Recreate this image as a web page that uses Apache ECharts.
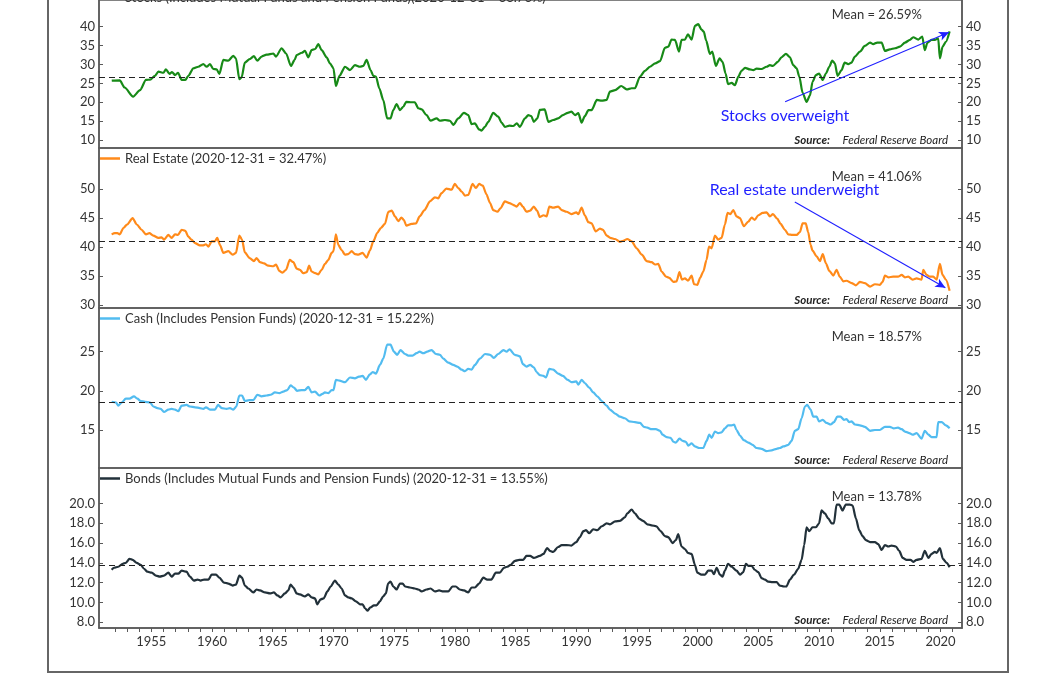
<!DOCTYPE html>
<html>
<head>
<meta charset="utf-8">
<script src="https://cdn.jsdelivr.net/npm/echarts@6.0.0/dist/echarts.min.js"></script>
<style>
  html, body { margin: 0; padding: 0; background: #ffffff; }
  #chart { width: 1056px; height: 675px; }
</style>
</head>
<body>
<div id="chart"></div>
<script>
// ---------------- DATA ----------------
const stocksName = 'Stocks (Includes Mutual Funds and Pension Funds)(2020-12-31 = 38.76%)';
const realEstateName = 'Real Estate (2020-12-31 = 32.47%)';
const cashName = 'Cash (Includes Pension Funds) (2020-12-31 = 15.22%)';
const bondsName = 'Bonds (Includes Mutual Funds and Pension Funds) (2020-12-31 = 13.55%)';

const stocksDates = [1951.74,1952.4,1952.8,1953.5,1954.07,1954.56,1954.9,1955.3,1955.58,1956.0,1956.2,1956.5,1956.7,1956.95,1957.2,1957.5,1957.8,1958.05,1958.46,1958.87,1959.28,1959.56,1959.83,1960.1,1960.38,1960.6,1960.93,1961.34,1961.75,1961.97,1962.25,1962.44,1962.7,1963.1,1963.45,1963.73,1964.08,1964.5,1965.05,1965.27,1965.73,1966.1,1966.5,1966.8,1966.97,1967.4,1967.65,1967.93,1968.2,1968.5,1968.75,1969.03,1969.44,1969.71,1970.0,1970.2,1970.5,1970.95,1971.36,1971.77,1972.18,1972.46,1972.73,1973.06,1973.28,1973.5,1973.78,1974.1,1974.43,1974.7,1974.93,1975.2,1975.48,1975.75,1976.0,1976.44,1976.7,1976.99,1977.26,1977.67,1978.0,1978.5,1978.77,1979.18,1979.6,1979.87,1980.28,1980.75,1981.1,1981.38,1981.65,1982.0,1982.2,1982.48,1982.75,1983.16,1983.57,1983.85,1984.12,1984.5,1984.8,1985.1,1985.36,1985.77,1986.05,1986.3,1986.5,1986.79,1987.0,1987.4,1987.7,1988.1,1988.5,1988.9,1989.3,1989.6,1989.9,1990.17,1990.44,1990.7,1991.0,1991.26,1991.7,1992.1,1992.5,1992.77,1993.2,1993.7,1994.15,1994.56,1994.83,1995.25,1995.66,1996.07,1996.5,1996.9,1997.3,1997.58,1997.85,1998.13,1998.46,1998.67,1998.95,1999.2,1999.5,1999.77,2000.05,2000.3,2000.5,2000.7,2001.0,2001.2,2001.5,2001.8,2002.05,2002.3,2002.5,2002.8,2003.07,2003.35,2003.6,2003.9,2004.3,2004.58,2004.85,2005.26,2005.67,2005.95,2006.2,2006.6,2006.9,2007.27,2007.6,2007.87,2008.15,2008.37,2008.64,2008.97,2009.25,2009.46,2009.74,2010.0,2010.3,2010.56,2010.84,2011.08,2011.3,2011.52,2011.85,2012.1,2012.4,2012.67,2012.95,2013.36,2013.77,2014.2,2014.46,2014.79,2015.15,2015.42,2015.83,2016.25,2016.66,2017.07,2017.48,2017.75,2018.17,2018.5,2018.7,2018.93,2019.26,2019.54,2019.81,2019.95,2020.17,2020.44,2020.75];
const stocksValues = [25.7,25.8,23.9,21.5,23.2,25.9,26.0,27.0,28.1,27.8,28.7,27.5,28.0,27.2,27.8,25.9,25.9,27.0,29.0,29.4,30.1,29.4,30.1,28.8,28.7,27.5,31.2,31.0,32.3,31.6,26.1,26.6,30.5,31.4,32.2,31.0,32.1,32.6,32.9,32.1,34.3,32.9,29.6,31.2,32.5,33.1,33.6,31.9,33.8,34.1,35.4,33.8,31.9,30.3,29.0,24.3,27.0,29.4,28.5,29.8,29.4,29.6,31.2,28.5,27.0,26.8,23.7,20.6,15.7,15.7,17.9,19.5,17.9,18.8,20.1,20.0,20.0,18.4,18.1,16.6,15.1,15.7,15.1,15.3,15.1,14.0,15.7,17.2,16.6,14.2,14.4,12.8,12.5,13.5,14.8,17.2,16.2,14.6,13.5,13.8,13.7,14.4,13.5,15.7,16.6,16.3,14.8,15.7,18.0,18.1,14.8,15.3,15.7,16.6,17.2,17.5,16.6,17.1,14.6,16.3,17.9,17.9,20.6,20.4,20.6,22.8,23.2,24.3,23.4,23.7,23.7,26.8,28.3,29.4,30.3,30.9,34.4,34.7,36.6,36.5,33.4,36.5,36.6,38.0,36.6,40.2,40.7,39.3,38.7,36.3,32.8,33.4,29.6,31.6,30.7,27.6,24.8,25.1,24.5,26.8,28.3,29.1,28.7,28.5,28.9,28.8,29.4,29.8,29.6,30.7,31.9,32.8,31.9,29.8,29.0,26.8,22.5,20.1,21.8,25.4,27.2,27.6,25.9,27.6,29.4,31.0,30.3,27.0,28.5,30.5,30.1,30.5,32.1,33.4,34.9,35.8,35.4,35.8,35.8,33.6,34.0,34.3,34.7,35.8,36.5,37.2,36.6,37.4,33.8,35.8,36.5,36.5,36.9,31.6,34.7,36.0,38.76];

const realEstateDates = [1951.73,1952.0,1952.2,1952.4,1952.7,1953.0,1953.46,1953.8,1954.2,1954.56,1954.84,1955.16,1955.58,1955.85,1956.04,1956.4,1956.67,1956.95,1957.2,1957.5,1957.8,1958.05,1958.3,1958.6,1959.0,1959.28,1959.5,1959.7,1959.97,1960.24,1960.43,1960.65,1960.93,1961.34,1961.7,1961.97,1962.25,1962.47,1962.7,1963.1,1963.45,1963.67,1963.95,1964.28,1964.63,1965.05,1965.27,1965.54,1965.8,1966.1,1966.4,1966.7,1966.97,1967.24,1967.5,1967.8,1968.0,1968.2,1968.5,1968.75,1969.03,1969.3,1969.58,1969.85,1970.0,1970.2,1970.4,1970.67,1970.95,1971.22,1971.5,1971.77,1972.05,1972.4,1972.73,1973.0,1973.28,1973.6,1973.9,1974.24,1974.52,1974.8,1975.07,1975.34,1975.6,1975.8,1976.0,1976.44,1976.8,1977.1,1977.5,1977.95,1978.36,1978.63,1978.9,1979.3,1979.73,1980.0,1980.28,1980.56,1980.83,1981.1,1981.46,1981.73,1982.0,1982.3,1982.6,1982.9,1983.16,1983.5,1983.76,1984.12,1984.5,1984.8,1985.07,1985.36,1985.6,1985.9,1986.2,1986.5,1986.77,1987.0,1987.3,1987.56,1987.78,1988.1,1988.5,1988.8,1989.2,1989.6,1990.0,1990.17,1990.44,1990.7,1991.0,1991.26,1991.6,1991.95,1992.2,1992.5,1992.8,1993.2,1993.6,1993.87,1994.2,1994.56,1994.97,1995.4,1995.8,1996.2,1996.5,1996.75,1997.03,1997.4,1997.66,1998.0,1998.26,1998.5,1998.7,1998.95,1999.2,1999.5,1999.7,1999.97,2000.2,2000.46,2000.73,2000.93,2001.15,2001.42,2001.7,2001.97,2002.24,2002.46,2002.7,2002.93,2003.2,2003.48,2003.8,2004.17,2004.44,2004.7,2004.99,2005.35,2005.68,2005.95,2006.2,2006.55,2006.83,2007.18,2007.46,2007.8,2008.15,2008.42,2008.64,2008.9,2009.1,2009.3,2009.46,2009.8,2010.07,2010.3,2010.56,2010.84,2011.17,2011.44,2011.7,2012.0,2012.26,2012.68,2013.03,2013.36,2013.77,2014.2,2014.6,2015.0,2015.23,2015.42,2015.7,2016.1,2016.5,2016.8,2017.07,2017.34,2017.7,2018.03,2018.44,2018.58,2018.85,2019.13,2019.4,2019.68,2019.95,2020.17,2020.44,2020.75];
const realEstateValues = [42.2,42.4,42.4,42.2,43.3,43.9,45.0,43.9,43.0,42.2,42.4,42.0,41.6,41.7,41.3,42.1,41.6,42.2,42.1,43.0,42.8,41.8,41.3,40.7,40.3,40.3,40.5,40.1,41.0,41.0,41.6,40.4,39.0,39.3,38.7,39.0,42.0,41.3,39.1,38.1,37.6,38.1,37.4,37.2,36.8,36.7,37.0,35.9,35.6,36.1,37.8,37.4,36.3,36.1,35.5,35.7,36.8,35.8,35.5,35.3,36.1,37.1,37.8,39.0,39.3,42.2,40.4,39.5,38.7,38.8,39.3,38.8,38.7,39.0,38.2,39.4,41.0,42.4,43.3,44.0,46.1,46.3,45.3,44.5,45.1,44.7,43.7,44.0,44.1,45.3,46.4,47.9,48.6,48.4,49.3,50.1,49.9,50.9,50.2,49.6,48.9,49.0,50.9,50.2,50.9,50.6,49.1,47.6,46.4,46.1,46.7,47.9,47.6,47.3,47.0,47.6,47.0,46.1,46.3,47.0,46.3,45.2,45.5,45.3,47.0,46.8,47.0,46.4,46.1,45.7,46.0,45.7,46.8,45.5,44.3,44.1,42.7,43.2,43.0,42.0,41.6,41.4,40.9,41.1,41.4,41.0,39.8,38.7,37.6,37.4,37.0,37.1,35.8,34.9,34.7,34.0,34.1,35.7,34.4,34.6,34.2,35.1,33.6,33.5,34.7,35.8,37.8,40.1,39.8,42.0,41.3,41.6,43.9,45.9,45.7,46.4,45.3,45.0,43.6,44.4,45.1,44.7,45.5,45.9,46.0,45.3,45.7,44.9,44.0,43.0,42.2,42.1,42.1,42.6,44.1,44.1,42.6,40.4,39.4,38.4,37.6,38.8,37.2,35.9,35.1,36.1,34.9,34.1,34.2,33.8,33.4,34.0,33.8,33.2,33.6,33.5,34.0,35.1,34.8,34.9,34.9,35.2,34.8,34.9,34.4,34.6,34.4,36.1,35.2,34.9,34.9,34.4,37.1,35.2,34.4,32.47];

const cashDates = [1951.73,1952.1,1952.28,1952.55,1952.9,1953.2,1953.57,1953.85,1954.12,1954.48,1954.9,1955.16,1955.5,1955.77,1956.04,1956.4,1956.67,1956.95,1957.22,1957.5,1957.9,1958.18,1958.6,1959.0,1959.28,1959.5,1959.83,1960.24,1960.5,1960.8,1961.2,1961.48,1961.75,1962.0,1962.25,1962.47,1962.7,1963.07,1963.4,1963.73,1964.08,1964.5,1964.83,1965.18,1965.54,1965.87,1966.2,1966.47,1966.75,1967.0,1967.38,1967.65,1967.93,1968.2,1968.48,1968.83,1969.1,1969.3,1969.58,1969.85,1970.0,1970.2,1970.5,1970.95,1971.36,1971.77,1972.1,1972.4,1972.68,1973.0,1973.23,1973.5,1973.83,1974.1,1974.43,1974.7,1974.98,1975.25,1975.52,1975.9,1976.16,1976.52,1976.85,1977.1,1977.4,1977.73,1978.08,1978.44,1978.77,1979.05,1979.46,1979.87,1980.2,1980.56,1980.83,1981.1,1981.38,1981.65,1982.06,1982.48,1982.9,1983.2,1983.57,1984.0,1984.26,1984.5,1984.94,1985.36,1985.6,1985.9,1986.2,1986.5,1986.73,1987.0,1987.3,1987.5,1987.78,1988.1,1988.5,1988.9,1989.3,1989.6,1990.0,1990.17,1990.44,1990.7,1991.07,1991.4,1991.73,1992.1,1992.5,1992.77,1993.2,1993.6,1994.0,1994.37,1994.83,1995.25,1995.57,1995.85,1996.2,1996.56,1996.9,1997.1,1997.44,1997.77,1998.0,1998.2,1998.5,1998.76,1999.03,1999.23,1999.5,1999.77,2000.13,2000.46,2000.73,2000.95,2001.15,2001.42,2001.7,2001.97,2002.24,2002.5,2002.8,2003.0,2003.2,2003.48,2003.8,2004.17,2004.52,2004.85,2005.26,2005.67,2006.09,2006.5,2006.77,2007.05,2007.46,2007.73,2008.0,2008.28,2008.56,2008.83,2009.02,2009.3,2009.52,2009.8,2010.0,2010.3,2010.62,2010.95,2011.22,2011.5,2011.77,2012.05,2012.26,2012.48,2012.68,2012.95,2013.36,2013.77,2014.2,2014.6,2015.0,2015.42,2015.83,2016.16,2016.5,2016.8,2017.07,2017.43,2017.7,2018.03,2018.44,2018.7,2019.0,2019.26,2019.68,2019.81,2020.1,2020.44,2020.75];
const cashValues = [18.6,18.5,18.1,18.5,19.0,19.0,19.3,19.0,18.7,18.6,18.5,18.0,17.8,17.7,17.3,17.6,17.7,17.6,17.4,18.1,18.2,18.0,17.9,17.8,17.7,17.9,17.6,17.6,18.2,17.8,17.7,17.8,17.6,18.0,19.4,19.4,18.7,18.8,18.8,19.5,19.3,19.4,19.5,19.8,19.7,19.9,20.1,20.7,20.4,20.0,20.1,20.1,20.5,19.8,19.9,19.4,19.6,19.8,19.7,20.1,20.1,21.4,21.3,21.1,21.7,21.6,21.8,21.9,21.4,22.1,22.4,22.2,23.3,24.1,25.9,25.9,25.0,24.6,25.2,24.7,24.5,24.5,24.8,25.0,24.8,25.0,25.2,24.7,24.6,24.1,23.6,23.3,23.1,22.7,22.5,22.8,22.7,23.3,24.1,24.7,24.6,24.2,24.7,25.2,25.0,25.3,24.6,24.4,23.4,23.1,23.3,23.0,22.4,22.0,21.9,21.7,22.8,22.7,22.2,21.9,21.4,21.1,21.2,20.8,21.4,21.0,20.4,19.8,19.3,18.7,18.1,17.6,17.1,16.7,16.5,16.1,16.0,15.9,15.4,15.3,15.1,15.1,14.9,14.4,14.1,14.0,13.5,13.4,13.9,13.6,13.5,13.0,13.3,12.9,12.7,12.7,13.6,14.4,14.0,14.8,14.6,14.7,15.2,15.6,15.6,15.7,15.0,14.3,13.7,13.4,13.1,12.7,12.6,12.3,12.4,12.6,12.7,12.9,13.1,13.6,14.9,15.1,16.5,18.0,18.2,17.6,16.7,16.7,16.1,16.3,15.9,15.7,16.0,16.7,16.7,16.3,16.4,16.0,16.1,15.7,15.6,15.4,14.9,15.0,15.0,15.4,15.4,15.2,15.3,15.1,14.8,14.6,14.4,14.6,13.9,14.9,14.4,14.1,14.1,16.0,16.0,15.6,15.22];

const bondsDates = [1951.73,1951.93,1952.28,1952.64,1952.9,1953.2,1953.46,1953.8,1954.12,1954.4,1954.67,1955.03,1955.38,1955.7,1956.04,1956.4,1956.67,1956.95,1957.22,1957.5,1957.9,1958.18,1958.5,1958.8,1959.06,1959.34,1959.7,1959.97,1960.33,1960.6,1960.98,1961.34,1961.7,1961.97,1962.25,1962.47,1962.7,1962.99,1963.4,1963.67,1963.95,1964.36,1964.77,1965.1,1965.38,1965.65,1966.0,1966.28,1966.47,1966.7,1966.97,1967.24,1967.65,1967.93,1968.2,1968.48,1968.67,1968.94,1969.2,1969.5,1969.77,1970.12,1970.4,1970.67,1970.95,1971.22,1971.5,1971.85,1972.18,1972.4,1972.6,1972.79,1973.06,1973.33,1973.55,1973.83,1974.1,1974.32,1974.5,1974.7,1974.93,1975.2,1975.48,1975.7,1975.9,1976.3,1976.7,1976.99,1977.26,1977.67,1978.0,1978.36,1978.7,1979.05,1979.46,1979.8,1980.08,1980.4,1980.75,1981.1,1981.38,1981.65,1982.0,1982.34,1982.66,1983.0,1983.38,1983.7,1984.04,1984.3,1984.6,1984.95,1985.3,1985.63,1985.9,1986.2,1986.5,1987.0,1987.3,1987.6,1987.83,1988.1,1988.5,1988.8,1989.2,1989.6,1990.0,1990.3,1990.58,1990.8,1991.07,1991.4,1991.73,1992.1,1992.5,1992.77,1993.2,1993.6,1994.0,1994.2,1994.56,1994.83,1995.2,1995.5,1995.85,1996.2,1996.6,1996.95,1997.3,1997.58,1997.93,1998.2,1998.4,1998.67,1998.95,1999.2,1999.5,1999.77,1999.97,2000.3,2000.6,2000.87,2001.15,2001.34,2001.56,2001.83,2002.05,2002.24,2002.5,2002.8,2003.2,2003.48,2003.75,2003.97,2004.17,2004.44,2004.7,2004.99,2005.26,2005.54,2005.8,2006.17,2006.5,2006.77,2007.1,2007.3,2007.6,2007.93,2008.28,2008.56,2008.77,2008.97,2009.19,2009.46,2009.74,2010.0,2010.2,2010.48,2010.75,2011.03,2011.22,2011.44,2011.66,2011.93,2012.2,2012.54,2012.76,2013.03,2013.3,2013.58,2013.85,2014.2,2014.6,2014.87,2015.15,2015.42,2015.7,2015.97,2016.33,2016.6,2016.88,2017.2,2017.53,2017.75,2018.03,2018.44,2018.7,2019.0,2019.26,2019.54,2019.68,2019.95,2020.2,2020.5,2020.75];
const bondsValues = [13.3,13.5,13.6,13.9,14.0,14.4,14.3,14.0,13.8,13.4,13.1,13.0,12.7,12.6,12.7,13.0,12.6,12.9,12.9,13.2,13.1,12.6,12.2,12.3,12.2,12.3,12.3,12.8,12.8,12.5,12.0,11.9,11.7,11.8,12.7,12.5,11.7,11.4,11.0,11.3,11.2,11.0,10.9,11.0,10.7,10.5,10.9,11.2,11.8,11.5,10.9,10.8,10.6,10.8,10.5,10.4,9.8,10.3,10.4,11.1,11.6,12.2,11.8,11.4,10.7,10.5,10.4,10.1,9.8,9.8,9.4,9.15,9.5,9.7,9.7,10.1,10.6,10.9,11.9,12.1,11.6,11.3,11.9,11.9,11.6,11.5,11.4,11.3,11.1,11.3,11.4,11.1,11.2,11.1,11.1,11.6,11.6,11.3,11.2,11.0,11.5,11.5,11.9,12.5,12.3,12.3,13.0,13.0,13.5,13.6,13.8,14.2,14.3,14.3,14.7,14.7,14.5,14.7,14.9,15.5,15.2,15.1,15.6,15.8,15.8,15.75,16.1,16.6,17.2,17.3,17.0,17.4,17.3,17.7,18.0,17.9,18.2,18.25,18.6,19.0,19.4,19.0,18.45,18.25,17.9,17.8,17.7,17.2,16.7,16.6,16.0,16.3,16.9,15.65,15.4,15.0,14.9,13.8,13.0,12.8,12.8,13.2,13.2,12.85,13.5,12.8,12.6,13.2,13.9,13.6,13.2,12.8,13.05,13.9,13.7,13.7,13.3,13.05,12.45,12.3,12.1,12.05,12.05,11.7,11.6,11.6,12.3,12.8,13.4,14.3,15.8,17.6,17.2,17.6,17.6,18.0,19.3,19.0,18.5,18.0,18.0,19.9,19.9,19.3,19.9,19.9,19.8,18.5,17.3,16.7,16.3,16.1,16.1,15.9,15.3,15.8,15.65,15.75,15.65,15.2,14.5,14.3,14.3,14.1,14.3,14.4,15.2,14.5,14.9,15.1,15.0,15.5,14.4,14.0,13.55];

const meanValues = [26.59, 41.06, 18.57, 13.78];
const meanLabels = ['Mean = 26.59%', 'Mean = 41.06%', 'Mean = 18.57%', 'Mean = 13.78%'];

const yTickLabels = [
  [10, 15, 20, 25, 30, 35, 40],
  [30, 35, 40, 45, 50],
  [15, 20, 25],
  [8, 10, 12, 14, 16, 18, 20]
];
const yDigits = [0, 0, 0, 1];
const yRanges = [[7.88, 47.07], [29.5, 57.1], [10.15, 30.57], [7.4, 23.6]];

const xTickYears = [];
for (let y = 1952; y <= 2021; y++) xTickYears.push(y);
const xLabelYears = [1955, 1960, 1965, 1970, 1975, 1980, 1985, 1990, 1995, 2000, 2005, 2010, 2015, 2020];

// annotation arrows (data coordinates)
const stocksArrow = [[2007.2, 20.1], [2020.7, 38.5]];
const realEstateArrow = [[2008.0, 47.8], [2020.4, 33.0]];

// ---------------- CHART ----------------
const zip = (xs, ys) => xs.map((x, i) => [x, ys[i]]);

const FONT = 'Lato, "Open Sans", sans-serif';
const AXIS_COLOR = '#5a5a5a';
const TEXT_COLOR = '#333333';
const X_MIN = 1950.69, X_MAX = 2021.77;

const gridTops = [0, 148, 308, 468];
const gridHeights = [148, 160, 160, 160];
const legendTops = [-9, 152, 312, 472];
const names = [stocksName, realEstateName, cashName, bondsName];
const colors = ['#178a17', '#ff8a1a', '#52bcf0', '#22313a'];
const datasets = [
  zip(stocksDates, stocksValues),
  zip(realEstateDates, realEstateValues),
  zip(cashDates, cashValues),
  zip(bondsDates, bondsValues)
];
const arrows = [stocksArrow, realEstateArrow, null, null];

const grids = gridTops.map((t, i) => ({
  left: 99, right: 94, top: t, height: gridHeights[i],
  show: true, borderColor: AXIS_COLOR, borderWidth: 1.5, backgroundColor: 'transparent'
}));

const xAxes = gridTops.map((t, i) => {
  const bottom = i === 3;
  return {
    type: 'value', gridIndex: i, min: X_MIN, max: X_MAX, show: bottom,
    axisLine: { show: true, onZero: false, lineStyle: { color: AXIS_COLOR, width: 1.5 } },
    axisTick: { show: true, length: 4, customValues: xTickYears, lineStyle: { color: AXIS_COLOR, width: 1 } },
    axisLabel: { show: true, customValues: xLabelYears, formatter: v => String(Math.round(v)),
                 fontFamily: FONT, fontSize: 13, color: TEXT_COLOR, margin: 7 },
    splitLine: { show: false }
  };
});

const yAxes = [];
gridTops.forEach((t, i) => {
  ['left', 'right'].forEach(pos => {
    yAxes.push({
      type: 'value', gridIndex: i, position: pos,
      min: yRanges[i][0], max: yRanges[i][1],
      axisLine: { show: true, lineStyle: { color: AXIS_COLOR, width: 1.5 } },
      axisTick: { show: true, inside: true, length: 4, customValues: yTickLabels[i], lineStyle: { color: AXIS_COLOR, width: 1 } },
      axisLabel: { show: true, customValues: yTickLabels[i], formatter: v => Number(v).toFixed(yDigits[i]),
                   fontFamily: FONT, fontSize: 13, color: TEXT_COLOR, margin: 4 },
      splitLine: { show: false }
    });
  });
});

const series = names.map((n, i) => {
  const mlData = [{ yAxis: meanValues[i], symbol: 'none',
    lineStyle: { color: '#222', width: 1.2, type: [6, 4] } }];
  if (arrows[i]) {
    mlData.push([
      { coord: arrows[i][0], symbol: 'none', lineStyle: { color: '#2020ff', width: 1.1, type: 'solid' } },
      { coord: arrows[i][1], symbol: 'arrow', symbolSize: [7, 10] }
    ]);
  }
  return {
    name: n, type: 'line', xAxisIndex: i, yAxisIndex: i * 2,
    data: datasets[i], showSymbol: false, symbol: 'none',
    smooth: 0.25, smoothMonotone: 'x',
    lineStyle: { color: colors[i], width: 2.2 },
    itemStyle: { color: colors[i] },
    animation: false,
    markLine: { silent: true, animation: false, symbol: ['none', 'none'], label: { show: false },
                lineStyle: { color: '#222', width: 1.2, type: [6, 4] }, data: mlData }
  };
});

const legends = names.map((n, i) => ({
  data: [n], left: 100, top: legendTops[i], padding: 0,
  icon: 'rect', itemWidth: 20, itemHeight: 2.5,
  selectedMode: false,
  textStyle: { fontFamily: FONT, fontSize: 13, color: TEXT_COLOR }
}));

const graphics = [
  { type: 'rect', silent: true, shape: { x: 48, y: -20, width: 960, height: 692 },
    style: { fill: 'none', stroke: '#666', lineWidth: 2 }, z: 0 }
];
const meanY = [15, 176.7, 336.7, 496.7];
const srcY = [140.7, 300.7, 460.7, 620.7];
for (let i = 0; i < 4; i++) {
  graphics.push({ type: 'text', silent: true, z: 50,
    style: { text: meanLabels[i], x: 922, y: meanY[i], textAlign: 'right', textVerticalAlign: 'middle',
             font: '13px ' + FONT, fill: TEXT_COLOR } });
  graphics.push({ type: 'text', silent: true, z: 50,
    style: { text: 'Source:', x: 830, y: srcY[i], textAlign: 'right', textVerticalAlign: 'middle',
             font: 'italic bold 11.5px ' + FONT, fill: '#222' } });
  graphics.push({ type: 'text', silent: true, z: 50,
    style: { text: 'Federal Reserve Board', x: 948, y: srcY[i], textAlign: 'right', textVerticalAlign: 'middle',
             font: 'italic 11.5px ' + FONT, fill: '#222' } });
}
graphics.push({ type: 'text', silent: true, z: 50,
  style: { text: 'Stocks overweight', x: 785, y: 115.5, textAlign: 'center', textVerticalAlign: 'middle',
           font: '16px ' + FONT, fill: '#1f1fff' } });
graphics.push({ type: 'text', silent: true, z: 50,
  style: { text: 'Real estate underweight', x: 794.5, y: 190, textAlign: 'center', textVerticalAlign: 'middle',
           font: '16px ' + FONT, fill: '#1f1fff' } });

const chart = echarts.init(document.getElementById('chart'), null, { renderer: 'canvas' });
chart.setOption({
  backgroundColor: '#ffffff',
  animation: false,
  grid: grids,
  xAxis: xAxes,
  yAxis: yAxes,
  legend: legends,
  series: series,
  graphic: graphics
});
</script>
</body>
</html>
